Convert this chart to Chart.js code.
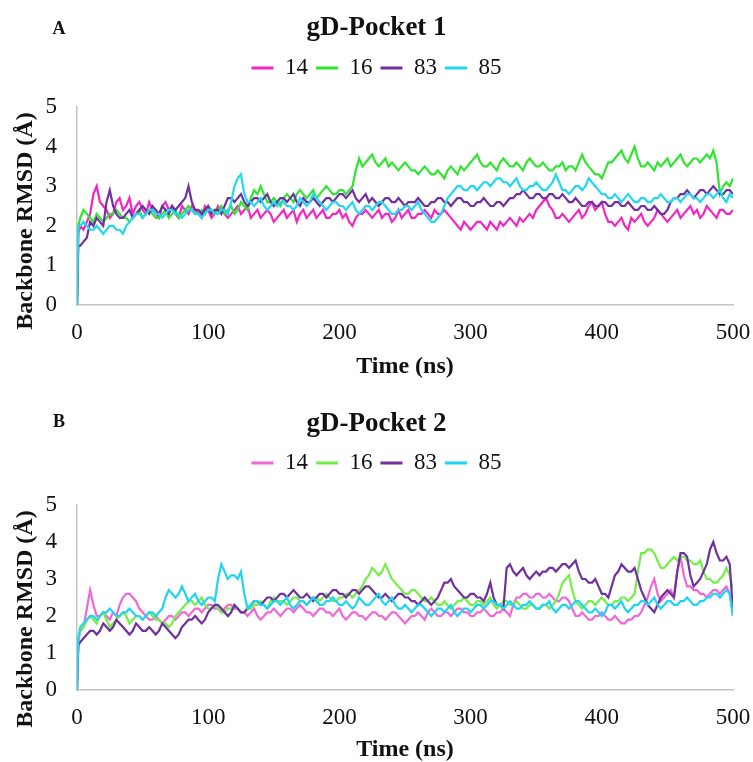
<!DOCTYPE html>
<html>
<head>
<meta charset="utf-8">
<script src="https://cdn.jsdelivr.net/npm/chart.js@4.4.1/dist/chart.umd.min.js"></script>
<style>
  body { margin: 0; background: #fff; }
  .panel { position: absolute; left: 0; width: 753px; }
  #wrapA { top: 0; height: 383px; }
  #wrapB { top: 383px; height: 379px; }
</style>
</head>
<body>
<div class="panel" id="wrapA"><canvas id="chartA" width="753" height="383"></canvas></div>
<div class="panel" id="wrapB"><canvas id="chartB" width="753" height="379"></canvas></div>
<script>
// time axis (ns): 0, 1, then every 2.5 ns
const times = [0, 1,
  2.5, 5, 7.5, 10, 12.5, 15, 17.5, 20, 22.5, 25, 27.5, 30, 32.5, 35, 37.5, 40, 42.5, 45, 47.5, 50,
  52.5, 55, 57.5, 60, 62.5, 65, 67.5, 70, 72.5, 75, 77.5, 80, 82.5, 85, 87.5, 90, 92.5, 95, 97.5, 100,
  102.5, 105, 107.5, 110, 112.5, 115, 117.5, 120, 122.5, 125, 127.5, 130, 132.5, 135, 137.5, 140, 142.5, 145, 147.5, 150,
  152.5, 155, 157.5, 160, 162.5, 165, 167.5, 170, 172.5, 175, 177.5, 180, 182.5, 185, 187.5, 190, 192.5, 195, 197.5, 200,
  202.5, 205, 207.5, 210, 212.5, 215, 217.5, 220, 222.5, 225, 227.5, 230, 232.5, 235, 237.5, 240, 242.5, 245, 247.5, 250,
  252.5, 255, 257.5, 260, 262.5, 265, 267.5, 270, 272.5, 275, 277.5, 280, 282.5, 285, 287.5, 290, 292.5, 295, 297.5, 300,
  302.5, 305, 307.5, 310, 312.5, 315, 317.5, 320, 322.5, 325, 327.5, 330, 332.5, 335, 337.5, 340, 342.5, 345, 347.5, 350,
  352.5, 355, 357.5, 360, 362.5, 365, 367.5, 370, 372.5, 375, 377.5, 380, 382.5, 385, 387.5, 390, 392.5, 395, 397.5, 400,
  402.5, 405, 407.5, 410, 412.5, 415, 417.5, 420, 422.5, 425, 427.5, 430, 432.5, 435, 437.5, 440, 442.5, 445, 447.5, 450,
  452.5, 455, 457.5, 460, 462.5, 465, 467.5, 470, 472.5, 475, 477.5, 480, 482.5, 485, 487.5, 490, 492.5, 495, 497.5, 500];

const seriesNames = ['14', '16', '83', '85'];
const yTicks = [0, 1, 2, 3, 4, 5];
const xTicks = [0, 100, 200, 300, 400, 500];

// gD-Pocket 1
const a14 = [0, 1.8,
  2.0, 1.9, 2.1, 2.3, 2.8, 3.0, 2.6, 2.5, 2.4, 2.2, 2.3, 2.6, 2.7, 2.4, 2.5, 2.7, 2.3, 2.5, 2.6, 2.4,
  2.3, 2.6, 2.4, 2.3, 2.2, 2.5, 2.6, 2.4, 2.5, 2.3, 2.2, 2.5, 2.4, 2.3, 2.5, 2.4, 2.3, 2.2, 2.5, 2.4,
  2.2, 2.3, 2.5, 2.4, 2.3, 2.2, 2.3, 2.4, 2.5, 2.3, 2.4, 2.5, 2.2, 2.3, 2.4, 2.2, 2.3, 2.4, 2.3, 2.1,
  2.2, 2.3, 2.4, 2.2, 2.3, 2.4, 2.1, 2.3, 2.4, 2.2, 2.3, 2.4, 2.2, 2.3, 2.4, 2.2, 2.2, 2.3, 2.3, 2.4,
  2.2, 2.3, 2.1, 2.0, 2.2, 2.3, 2.3, 2.4, 2.3, 2.2, 2.3, 2.4, 2.2, 2.3, 2.3, 2.1, 2.2, 2.4, 2.2, 2.3,
  2.4, 2.2, 2.2, 2.3, 2.3, 2.4, 2.3, 2.2, 2.4, 2.3, 2.3, 2.4, 2.3, 2.2, 2.1, 2.0, 1.9, 2.1, 2.0, 1.9,
  2.0, 2.1, 2.1, 2.0, 1.9, 2.1, 2.0, 1.9, 2.1, 2.0, 2.1, 2.2, 2.1, 2.0, 2.2, 2.1, 2.2, 2.3, 2.2, 2.4,
  2.5, 2.6, 2.7, 2.5, 2.4, 2.2, 2.2, 2.3, 2.2, 2.1, 2.2, 2.3, 2.4, 2.2, 2.3, 2.5, 2.6, 2.4, 2.5, 2.6,
  2.3, 2.1, 2.1, 2.0, 2.1, 2.2, 2.0, 1.9, 2.2, 2.1, 2.2, 2.3, 2.1, 2.0, 2.1, 2.2, 2.4, 2.3, 2.2, 2.1,
  2.2, 2.3, 2.4, 2.2, 2.3, 2.4, 2.5, 2.3, 2.4, 2.2, 2.3, 2.5, 2.4, 2.3, 2.2, 2.4, 2.4, 2.3, 2.3, 2.4];
const a16 = [0, 2.0,
  2.2, 2.4, 2.3, 2.2, 2.1, 2.3, 2.2, 2.1, 2.2, 2.3, 2.3, 2.4, 2.3, 2.2, 2.2, 2.1, 2.2, 2.3, 2.4, 2.2,
  2.3, 2.4, 2.3, 2.2, 2.2, 2.3, 2.4, 2.2, 2.3, 2.4, 2.2, 2.3, 2.4, 2.5, 2.4, 2.3, 2.3, 2.4, 2.3, 2.5,
  2.4, 2.3, 2.4, 2.5, 2.3, 2.4, 2.5, 2.3, 2.4, 2.6, 2.5, 2.4, 2.7, 2.9, 2.8, 3.0, 2.8, 2.6, 2.6, 2.7,
  2.6, 2.5, 2.7, 2.8, 2.7, 2.6, 2.8, 2.9, 2.8, 2.7, 2.8, 2.9, 2.7, 2.8, 2.9, 3.0, 2.9, 2.8, 2.8, 2.9,
  2.9, 2.8, 2.9, 3.0, 3.4, 3.7, 3.5, 3.6, 3.7, 3.8, 3.6, 3.5, 3.6, 3.7, 3.5, 3.6, 3.5, 3.4, 3.5, 3.6,
  3.5, 3.4, 3.4, 3.3, 3.4, 3.5, 3.4, 3.3, 3.3, 3.4, 3.3, 3.2, 3.4, 3.5, 3.4, 3.3, 3.5, 3.4, 3.5, 3.6,
  3.7, 3.8, 3.6, 3.5, 3.5, 3.6, 3.5, 3.4, 3.6, 3.7, 3.6, 3.5, 3.5, 3.6, 3.5, 3.4, 3.6, 3.7, 3.6, 3.5,
  3.5, 3.6, 3.5, 3.4, 3.4, 3.5, 3.5, 3.6, 3.4, 3.5, 3.5, 3.4, 3.6, 3.8, 3.6, 3.5, 3.4, 3.3, 3.3, 3.2,
  3.4, 3.6, 3.6, 3.7, 3.8, 3.9, 3.7, 3.6, 3.8, 4.0, 3.7, 3.5, 3.5, 3.6, 3.5, 3.4, 3.6, 3.5, 3.6, 3.7,
  3.5, 3.6, 3.7, 3.8, 3.6, 3.5, 3.6, 3.7, 3.7, 3.6, 3.7, 3.8, 3.7, 3.9, 3.6, 2.8, 3.0, 3.1, 3.0, 3.2];
const a83 = [0, 1.5,
  1.5, 1.6, 1.7, 2.1, 2.0, 2.2, 2.1, 2.0, 2.6, 2.9, 2.5, 2.3, 2.2, 2.2, 2.3, 2.4, 2.2, 2.3, 2.4, 2.5,
  2.4, 2.3, 2.5, 2.4, 2.3, 2.5, 2.4, 2.3, 2.5, 2.4, 2.5, 2.6, 2.7, 3.0, 2.6, 2.4, 2.4, 2.3, 2.4, 2.5,
  2.3, 2.4, 2.4, 2.3, 2.5, 2.7, 2.7, 2.6, 2.7, 2.8, 2.6, 2.5, 2.6, 2.7, 2.7, 2.6, 2.7, 2.8, 2.6, 2.5,
  2.6, 2.7, 2.7, 2.6, 2.7, 2.8, 2.6, 2.5, 2.7, 2.6, 2.6, 2.7, 2.6, 2.5, 2.6, 2.7, 2.7, 2.6, 2.7, 2.8,
  2.8, 2.7, 2.8, 2.9, 2.7, 2.6, 2.7, 2.8, 2.6, 2.7, 2.6, 2.5, 2.6, 2.7, 2.7, 2.6, 2.6, 2.7, 2.6, 2.5,
  2.6, 2.6, 2.6, 2.7, 2.6, 2.5, 2.5, 2.6, 2.6, 2.7, 2.7, 2.6, 2.6, 2.5, 2.6, 2.7, 2.7, 2.6, 2.6, 2.5,
  2.5, 2.6, 2.6, 2.7, 2.6, 2.5, 2.5, 2.6, 2.6, 2.5, 2.6, 2.7, 2.7, 2.8, 2.8, 2.9, 2.8, 2.7, 2.7, 2.8,
  2.8, 2.7, 2.7, 2.8, 2.8, 2.7, 2.7, 2.8, 2.7, 2.6, 2.6, 2.7, 2.6, 2.5, 2.5, 2.6, 2.6, 2.5, 2.5, 2.6,
  2.6, 2.5, 2.5, 2.6, 2.6, 2.5, 2.5, 2.6, 2.5, 2.4, 2.4, 2.5, 2.5, 2.4, 2.4, 2.5, 2.4, 2.3, 2.3, 2.4,
  2.6, 2.7, 2.7, 2.8, 2.8, 2.9, 2.8, 2.7, 2.8, 2.9, 2.9, 2.8, 2.9, 3.0, 2.9, 2.8, 2.8, 2.9, 2.9, 2.8];
const a85 = [0, 2.0,
  2.0, 2.1, 2.0, 1.9, 1.9, 2.0, 1.9, 1.8, 1.9, 2.0, 2.0, 1.9, 1.9, 1.8, 2.0, 2.1, 2.2, 2.3, 2.3, 2.2,
  2.3, 2.4, 2.4, 2.3, 2.3, 2.2, 2.3, 2.4, 2.4, 2.3, 2.3, 2.2, 2.3, 2.4, 2.4, 2.3, 2.3, 2.2, 2.3, 2.4,
  2.4, 2.3, 2.3, 2.4, 2.4, 2.3, 2.6, 3.0, 3.2, 3.3, 2.8, 2.6, 2.6, 2.5, 2.6, 2.7, 2.5, 2.4, 2.5, 2.6,
  2.5, 2.6, 2.6, 2.5, 2.5, 2.4, 2.5, 2.7, 2.6, 2.5, 2.6, 2.8, 2.7, 2.6, 2.5, 2.4, 2.5, 2.6, 2.6, 2.5,
  2.5, 2.4, 2.5, 2.6, 2.4, 2.3, 2.4, 2.5, 2.5, 2.4, 2.5, 2.6, 2.6, 2.5, 2.4, 2.3, 2.3, 2.4, 2.4, 2.5,
  2.5, 2.4, 2.5, 2.6, 2.4, 2.3, 2.2, 2.1, 2.1, 2.2, 2.3, 2.5, 2.7, 2.8, 2.9, 3.0, 3.0, 2.9, 2.9, 3.0,
  3.0, 2.9, 3.0, 3.1, 3.1, 3.0, 3.1, 3.2, 3.2, 3.1, 3.1, 3.0, 3.1, 3.2, 3.0, 2.9, 2.9, 3.0, 3.0, 3.1,
  3.0, 2.9, 2.9, 3.0, 3.1, 3.3, 3.1, 2.9, 2.9, 2.8, 2.9, 3.0, 3.0, 2.9, 3.0, 3.2, 3.1, 3.0, 2.9, 2.8,
  2.8, 2.7, 2.7, 2.8, 2.7, 2.6, 2.7, 2.8, 2.7, 2.6, 2.6, 2.7, 2.7, 2.6, 2.6, 2.7, 2.7, 2.8, 2.7, 2.6,
  2.6, 2.7, 2.7, 2.6, 2.7, 2.8, 2.8, 2.7, 2.7, 2.6, 2.7, 2.8, 2.8, 2.7, 2.8, 2.9, 2.7, 2.6, 2.8, 2.7];

// gD-Pocket 2
const b14 = [0, 1.3,
  1.6, 1.7, 2.2, 2.7, 2.3, 2.0, 2.0, 2.1, 2.0, 1.9, 2.1, 2.0, 2.3, 2.5, 2.6, 2.6, 2.5, 2.4, 2.2, 2.1,
  2.0, 1.9, 1.9, 2.0, 1.9, 1.8, 1.9, 2.0, 2.0, 1.9, 2.0, 2.1, 2.1, 2.0, 2.1, 2.2, 2.2, 2.1, 2.2, 2.3,
  2.3, 2.2, 2.2, 2.1, 2.2, 2.3, 2.3, 2.2, 2.2, 2.1, 2.1, 2.0, 2.1, 2.2, 2.0, 1.9, 2.0, 2.1, 2.1, 2.2,
  2.1, 2.0, 2.1, 2.2, 2.2, 2.1, 2.2, 2.3, 2.2, 2.1, 2.1, 2.0, 2.1, 2.2, 2.2, 2.1, 2.1, 2.0, 2.1, 2.2,
  2.0, 1.9, 2.0, 2.1, 2.1, 2.0, 2.0, 1.9, 2.0, 2.1, 2.1, 2.0, 2.0, 1.9, 2.0, 2.1, 2.1, 2.0, 1.9, 1.8,
  1.9, 2.0, 2.0, 2.1, 2.0, 1.9, 2.1, 2.2, 2.1, 2.0, 2.0, 2.1, 2.1, 2.0, 2.1, 2.2, 2.2, 2.1, 2.1, 2.0,
  2.0, 2.1, 2.1, 2.2, 2.1, 2.0, 2.0, 2.1, 2.1, 2.2, 2.1, 2.0, 2.3, 2.5, 2.5, 2.6, 2.6, 2.5, 2.5, 2.6,
  2.6, 2.5, 2.5, 2.6, 2.5, 2.4, 2.4, 2.5, 2.5, 2.4, 2.2, 2.0, 2.0, 2.1, 2.0, 1.9, 1.9, 2.0, 2.0, 2.1,
  2.0, 1.9, 1.9, 2.0, 1.9, 1.8, 1.8, 1.9, 1.9, 2.0, 2.0, 2.1, 2.3, 2.5, 2.8, 3.0, 2.6, 2.4, 2.5, 2.6,
  2.7, 2.5, 3.2, 3.6, 3.1, 2.8, 2.8, 2.7, 2.7, 2.6, 2.6, 2.5, 2.6, 2.7, 2.7, 2.6, 2.7, 2.8, 2.6, 2.0];
const b16 = [0, 1.4,
  1.6, 1.7, 1.9, 2.0, 1.9, 1.8, 2.0, 2.1, 1.9, 1.7, 1.8, 1.9, 2.0, 2.1, 2.0, 1.8, 1.9, 2.0, 2.0, 1.9,
  2.0, 2.1, 2.0, 1.9, 1.9, 1.8, 1.8, 1.7, 1.8, 2.0, 2.1, 2.2, 2.3, 2.4, 2.4, 2.3, 2.4, 2.5, 2.3, 2.2,
  2.2, 2.3, 2.2, 2.1, 2.1, 2.2, 2.2, 2.3, 2.2, 2.1, 2.1, 2.2, 2.2, 2.3, 2.3, 2.4, 2.3, 2.2, 2.4, 2.5,
  2.4, 2.4, 2.4, 2.3, 2.4, 2.5, 2.5, 2.4, 2.4, 2.3, 2.4, 2.5, 2.5, 2.4, 2.5, 2.6, 2.5, 2.4, 2.4, 2.5,
  2.5, 2.6, 2.6, 2.5, 2.6, 2.7, 2.8, 3.0, 3.1, 3.3, 3.2, 3.1, 3.2, 3.4, 3.2, 3.0, 2.9, 2.8, 2.7, 2.6,
  2.6, 2.7, 2.7, 2.6, 2.5, 2.4, 2.4, 2.5, 2.4, 2.3, 2.3, 2.4, 2.3, 2.2, 2.3, 2.4, 2.4, 2.5, 2.4, 2.3,
  2.3, 2.4, 2.4, 2.3, 2.4, 2.5, 2.3, 2.2, 2.3, 2.4, 2.4, 2.3, 2.3, 2.4, 2.3, 2.2, 2.2, 2.3, 2.3, 2.2,
  2.2, 2.3, 2.3, 2.2, 2.3, 2.4, 2.6, 2.9, 3.0, 3.1, 2.7, 2.4, 2.3, 2.2, 2.3, 2.4, 2.4, 2.3, 2.4, 2.5,
  2.4, 2.3, 2.3, 2.4, 2.4, 2.5, 2.5, 2.4, 2.5, 2.6, 3.2, 3.7, 3.7, 3.8, 3.8, 3.7, 3.5, 3.3, 3.3, 3.4,
  3.5, 3.6, 3.5, 3.6, 3.6, 3.5, 3.5, 3.4, 3.4, 3.5, 3.2, 3.0, 3.0, 2.9, 2.9, 3.0, 3.1, 3.3, 3.1, 2.7];
const b83 = [0, 1.2,
  1.3, 1.4, 1.5, 1.6, 1.6, 1.5, 1.6, 1.8, 1.7, 1.6, 1.7, 1.9, 1.8, 1.7, 1.6, 1.5, 1.6, 1.8, 1.7, 1.6,
  1.6, 1.7, 1.6, 1.5, 1.6, 1.8, 1.7, 1.6, 1.5, 1.4, 1.5, 1.7, 1.8, 1.9, 1.9, 2.0, 1.9, 1.8, 1.9, 2.1,
  2.2, 2.3, 2.3, 2.2, 2.1, 2.0, 2.1, 2.3, 2.2, 2.1, 2.1, 2.2, 2.3, 2.4, 2.4, 2.3, 2.4, 2.5, 2.5, 2.4,
  2.5, 2.6, 2.6, 2.5, 2.6, 2.7, 2.6, 2.5, 2.5, 2.6, 2.5, 2.4, 2.5, 2.6, 2.6, 2.5, 2.6, 2.7, 2.7, 2.6,
  2.6, 2.5, 2.6, 2.7, 2.7, 2.6, 2.7, 2.8, 2.8, 2.7, 2.6, 2.5, 2.5, 2.6, 2.5, 2.4, 2.5, 2.6, 2.6, 2.5,
  2.5, 2.4, 2.4, 2.3, 2.4, 2.5, 2.4, 2.3, 2.4, 2.5, 2.7, 2.9, 2.9, 3.0, 2.8, 2.7, 2.6, 2.5, 2.5, 2.6,
  2.6, 2.5, 2.5, 2.4, 2.6, 2.9, 2.5, 2.3, 2.3, 2.2, 3.3, 3.4, 3.2, 3.1, 3.2, 3.3, 3.1, 3.0, 3.1, 3.2,
  3.1, 3.2, 3.2, 3.3, 3.3, 3.2, 3.3, 3.4, 3.4, 3.3, 3.4, 3.5, 3.2, 3.0, 3.0, 2.9, 2.9, 3.0, 2.8, 2.6,
  2.6, 2.5, 2.8, 3.1, 3.2, 3.4, 3.3, 3.2, 3.2, 3.3, 3.0, 2.7, 2.5, 2.3, 2.2, 2.1, 2.3, 2.5, 2.6, 2.7,
  2.6, 2.5, 3.2, 3.7, 3.7, 3.6, 3.1, 2.8, 2.9, 3.0, 3.2, 3.4, 3.8, 4.0, 3.7, 3.5, 3.5, 3.6, 3.4, 2.1];
const b85 = [0, 1.4,
  1.7, 1.8, 1.9, 2.0, 2.0, 1.9, 2.0, 2.1, 2.1, 2.2, 2.1, 2.0, 2.0, 2.1, 2.1, 2.2, 2.1, 2.0, 2.0, 1.9,
  2.0, 2.1, 2.1, 2.0, 2.1, 2.2, 2.5, 2.7, 2.6, 2.5, 2.6, 2.8, 2.6, 2.4, 2.5, 2.6, 2.4, 2.3, 2.4, 2.5,
  2.5, 2.4, 3.0, 3.4, 3.2, 3.0, 3.1, 3.1, 3.0, 3.2, 2.6, 2.2, 2.3, 2.4, 2.4, 2.3, 2.3, 2.2, 2.3, 2.4,
  2.4, 2.3, 2.4, 2.5, 2.3, 2.2, 2.3, 2.4, 2.4, 2.3, 2.4, 2.5, 2.4, 2.3, 2.3, 2.4, 2.4, 2.5, 2.4, 2.3,
  2.3, 2.4, 2.3, 2.2, 2.3, 2.5, 2.4, 2.3, 2.3, 2.4, 2.5, 2.6, 2.4, 2.3, 2.4, 2.5, 2.3, 2.2, 2.2, 2.3,
  2.2, 2.1, 2.2, 2.3, 2.3, 2.2, 2.1, 2.0, 2.1, 2.2, 2.2, 2.1, 2.2, 2.3, 2.1, 2.0, 2.1, 2.2, 2.2, 2.1,
  2.2, 2.3, 2.3, 2.2, 2.3, 2.4, 2.4, 2.3, 2.3, 2.2, 2.3, 2.4, 2.3, 2.2, 2.2, 2.3, 2.3, 2.4, 2.3, 2.2,
  2.2, 2.3, 2.3, 2.4, 2.2, 2.1, 2.2, 2.3, 2.3, 2.2, 2.3, 2.4, 2.4, 2.3, 2.2, 2.1, 2.1, 2.2, 2.1, 2.0,
  2.1, 2.3, 2.3, 2.2, 2.3, 2.4, 2.2, 2.1, 2.2, 2.3, 2.3, 2.4, 2.4, 2.3, 2.4, 2.5, 2.3, 2.2, 2.3, 2.4,
  2.4, 2.3, 2.3, 2.4, 2.4, 2.5, 2.4, 2.3, 2.3, 2.4, 2.4, 2.5, 2.5, 2.6, 2.6, 2.5, 2.6, 2.7, 2.6, 2.0];

const colorsA = ['#f425c3', '#2ee62e', '#7030a0', '#22d8f0'];
const colorsB = ['#f266d8', '#74ee4a', '#7030a0', '#20d4f4'];

Chart.defaults.font.family = '"Liberation Serif", "Times New Roman", serif';
Chart.defaults.color = '#111';

function makeChart(id, opts) {
  const datasets = opts.series.map((vals, i) => ({
    label: seriesNames[i],
    data: vals.map((v, k) => ({ x: times[k], y: v })),
    borderColor: opts.colors[i],
    backgroundColor: opts.colors[i],
    borderWidth: 2.2,
    pointRadius: 0,
    tension: 0,
    order: 3 - i
  }));

  const extras = {
    id: 'extras',
    beforeInit(chart) {
      const fit = chart.legend.fit;
      chart.legend.fit = function () {
        fit.call(this);
        this.height += opts.legendGap;
      };
    },
    afterDraw(chart) {
      const ctx = chart.ctx;
      ctx.save();
      ctx.fillStyle = '#111';
      ctx.textAlign = 'center';
      ctx.textBaseline = 'middle';
      // panel letter
      ctx.font = 'bold 18px "Liberation Serif", serif';
      ctx.fillText(opts.letter, 59, opts.letterY);
      // y axis title
      ctx.font = 'bold 24px "Liberation Serif", serif';
      ctx.translate(26, opts.yTitleY);
      ctx.rotate(-Math.PI / 2);
      ctx.fillText('Backbone RMSD (Å)', 0, 0);
      ctx.restore();
    }
  };

  return new Chart(document.getElementById(id), {
    type: 'line',
    data: { datasets },
    plugins: [extras],
    options: {
      responsive: false,
      animation: false,
      layout: { padding: { left: 0, right: 0, top: 0, bottom: 0 } },
      plugins: {
        tooltip: { enabled: false },
        title: {
          display: true,
          text: opts.title,
          font: { size: 27, weight: 'bold' },
          padding: opts.titlePad
        },
        legend: {
          position: 'top',
          labels: {
            boxWidth: 22,
            boxHeight: 3,
            padding: 8,
            font: { size: 23 },
            sort: (a, b) => a.datasetIndex - b.datasetIndex,
            generateLabels(chart) {
              const items = Chart.defaults.plugins.legend.labels.generateLabels(chart);
              items.forEach(it => { it.lineWidth = 0; it.fillStyle = it.strokeStyle; });
              return items;
            }
          }
        }
      },
      scales: {
        x: {
          type: 'linear',
          min: 0,
          max: 500,
          afterFit(scale) {
            scale.height = opts.xAxisHeight;
            scale.paddingLeft = 0;
            scale.paddingRight = 20;
          },
          afterBuildTicks(scale) { scale.ticks = xTicks.map(v => ({ value: v })); },
          grid: { display: false, drawTicks: false },
          border: { display: true, color: '#c4c4c4', width: 1.5 },
          ticks: { font: { size: 23 }, padding: 14, maxRotation: 0 },
          title: {
            display: true,
            text: 'Time (ns)',
            font: { size: 24, weight: 'bold', lineHeight: 1 },
            padding: { top: 0, bottom: opts.xTitlePadBottom }
          }
        },
        y: {
          min: 0,
          max: 5,
          afterFit(scale) { scale.width = 77; },
          afterBuildTicks(scale) { scale.ticks = yTicks.map(v => ({ value: v })); },
          grid: { display: false, drawTicks: false },
          border: { display: true, color: '#c4c4c4', width: 1.5 },
          ticks: { font: { size: 23 }, padding: 20 },
          title: { display: false }
        }
      }
    }
  });
}

makeChart('chartA', {
  title: 'gD-Pocket 1',
  letter: 'A',
  letterY: 29,
  yTitleY: 221,
  series: [a14, a16, a83, a85],
  colors: colorsA,
  titlePad: { top: 12, bottom: 4 },
  legendGap: 17.6,
  xAxisHeight: 78,
  xTitlePadBottom: 4
});

makeChart('chartB', {
  title: 'gD-Pocket 2',
  letter: 'B',
  letterY: 39,
  yTitleY: 236,
  series: [b14, b16, b83, b85],
  colors: colorsB,
  titlePad: { top: 25, bottom: 3 },
  legendGap: 20.6,
  xAxisHeight: 72,
  xTitlePadBottom: 0
});
</script>
</body>
</html>
